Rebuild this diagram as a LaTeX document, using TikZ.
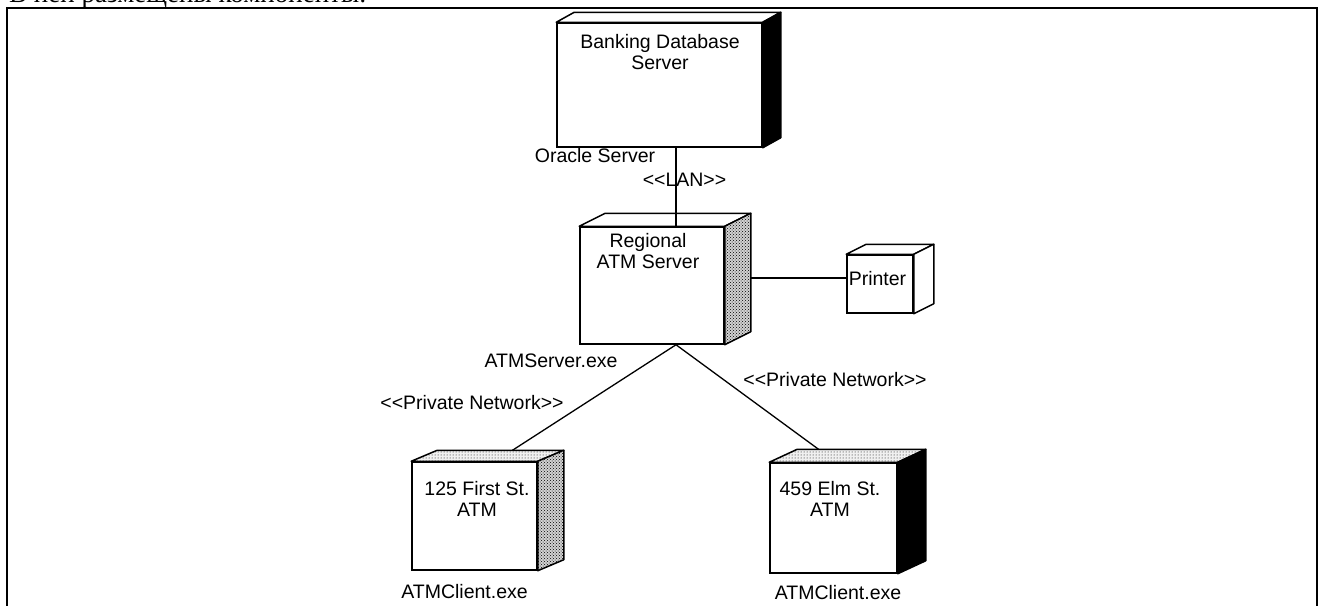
\documentclass[tikz,border=0pt]{standalone}
\usepackage{fontspec}
\newfontfamily\lab{Liberation Sans}
\newfontfamily\rus{Liberation Serif}
\usetikzlibrary{calc,patterns}
\newcommand\ltlt{<\kern0pt<}
\newcommand\gtgt{>\kern0pt>}
\newcommand\mycube[5]{%
  \filldraw[face, #5] (#1.north west) -- ++(#2,#3) -- ($(#1.north east)+(#2,#3)$) -- (#1.north east) -- cycle;
  \filldraw[face, #4] (#1.north east) -- ++(#2,#3) -- ($(#1.south east)+(#2,#3)$) -- (#1.south east) -- cycle;
}
\begin{document}
\begin{tikzpicture}[x=1pt,y=-1pt,
  frontface/.style={draw, line width=1.5pt, fill=white, inner sep=0pt},
  face/.style={draw, line width=1.5pt, line join=round},
  plain/.style={fill=white},
  dark/.style={fill=black},
  stipple/.style={preaction={fill=gray!35}, pattern=crosshatch dots},
  lightstip/.style={preaction={fill=gray!12}, pattern=dots},
  lbl/.style={font=\lab\fontsize{19.5}{21}\selectfont, inner sep=0pt},
  conn/.style={line width=1.3pt}]
\clip (0,0) rectangle (1324,605);
\fill[white] (0,0) rectangle (1324,605);
% cut-off heading line
\node[anchor=base west, font=\rus\fontsize{27}{30}\selectfont, inner sep=0pt] (head) at (9,2.5) {В ней размещены компоненты:};
% frame
\draw[line width=2pt] (7,640) -- (7,8) -- (1317,8) -- (1317,640);

% boxes
\node[frontface, minimum width=205pt, minimum height=124pt] (bank) at (659.5,85) {};
\mycube{bank}{18}{-10}{dark}{plain}
\node[frontface, minimum width=144pt, minimum height=117pt] (reg) at (652,285.5) {};
\mycube{reg}{26}{-13}{stipple}{plain}
\node[frontface, minimum width=66pt, minimum height=58pt] (prn) at (880,284) {};
\mycube{prn}{20}{-10}{plain}{plain}
\node[frontface, minimum width=125pt, minimum height=108pt] (first) at (474.5,516) {};
\mycube{first}{26}{-11}{stipple}{lightstip}
\node[frontface, minimum width=127pt, minimum height=110pt] (elm) at (833.5,518) {};
\mycube{elm}{28}{-13}{dark}{lightstip}

% box texts
\node[lbl, anchor=north, align=center] (bankT) at (660,34) {Banking Database\\Server};
\node[lbl, anchor=north, align=center] (regT) at (648,233) {Regional\\ATM Server};
\node[lbl, anchor=base] (prnT) at (877.5,285) {Printer};
\node[lbl, anchor=north, align=center] (firstT) at (477,481) {125 First St.\\ATM};
\node[lbl, anchor=north, align=center] (elmT) at (830,481) {459 Elm St.\\ATM};

% connectors
\coordinate (lanX) at (676,0);
\draw[conn] (lanX |- bank.south) -- (lanX |- reg.north);
\coordinate (regR) at ($(reg.east)+(26,-7.5)$);
\draw[conn] (regR) -- (regR -| prn.west);
\coordinate (regB) at (reg.south -| lanX);
\coordinate (firstTop) at ($(first.north)+(38,-11)$);
\coordinate (elmTop) at ($(elm.north)+(-15,-13)$);
\draw[conn] (regB) -- (firstTop);
\draw[conn] (regB) -- (elmTop);

% labels
\node[lbl, anchor=base] (oracle) at (595,162) {Oracle Server};
\node[lbl, anchor=base] (lan) at (684.5,186) {\ltlt LAN\gtgt};
\node[lbl, anchor=base] (srvexe) at (551,367) {ATMServer.exe};
\node[lbl, anchor=base] (pnL) at (472,409) {\ltlt Private Network\gtgt};
\node[lbl, anchor=base] (pnR) at (835,386) {\ltlt Private Network\gtgt};
\node[lbl, anchor=base] (cl1) at (464.5,598) {ATMClient.exe};
\node[lbl, anchor=base] (cl2) at (838,599) {ATMClient.exe};
\end{tikzpicture}
\end{document}
